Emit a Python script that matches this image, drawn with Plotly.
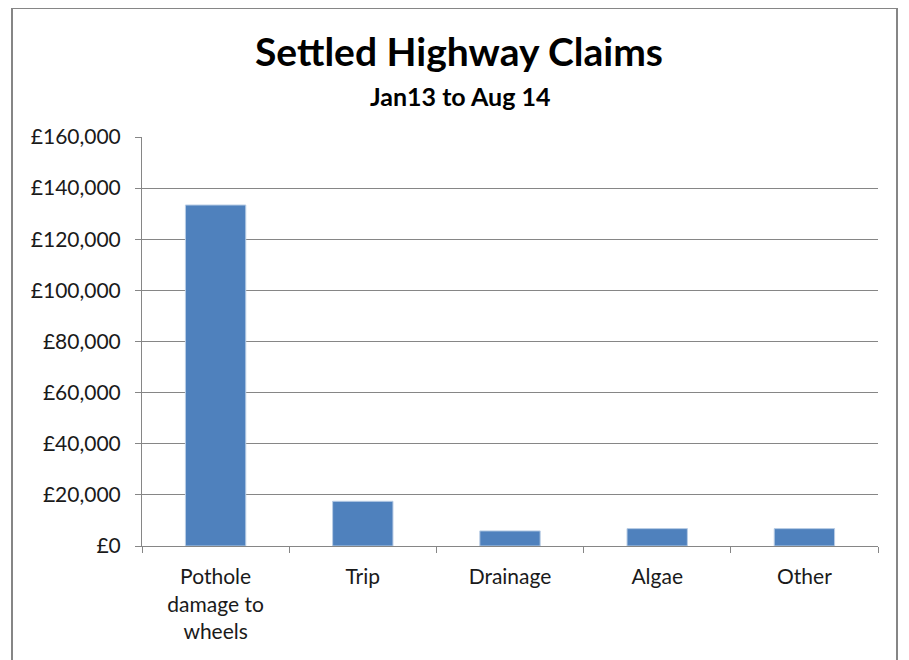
import plotly.graph_objects as go

categories = ["Pothole<br>damage to<br>wheels", "Trip", "Drainage", "Algae", "Other"]
values = [133400, 17500, 5900, 6800, 6800]
y_ticks = [0, 20000, 40000, 60000, 80000, 100000, 120000, 140000, 160000]
y_tick_labels = ["£" + format(v, ",") for v in y_ticks]

FONT = "Lato"
OFF = 8  # page body offset
W, H = 909 - OFF, 660 - OFF
L, R, T, B = 142 - OFF, 909 - 878, 137 - OFF, 660 - 546
pw = W - L - R
ph = H - T - B

def px_x(p):
    return (p - OFF - L) / pw

def px_y(p):
    return (H - B - (p - OFF)) / ph

fig = go.Figure()
fig.add_trace(go.Bar(
    x=categories, y=values,
    marker=dict(color="#4F81BD", line=dict(color="#B9CDE5", width=1)),
    width=0.41,
))

fig.update_layout(
    width=W, height=H,
    margin=dict(l=L, r=R, t=T, b=B),
    paper_bgcolor="white", plot_bgcolor="white",
    showlegend=False,
    font=dict(family=FONT, size=21, color="#1a1a1a"),
    xaxis=dict(
        showline=True, linecolor="#868686", linewidth=1,
        ticks="outside", ticklen=6, tickcolor="#868686",
        tickson="boundaries", showgrid=False,
        tickfont=dict(size=21, family=FONT),
        ticklabelstandoff=12,
    ),
    yaxis=dict(
        range=[0, 160000], tickvals=y_ticks, ticktext=y_tick_labels,
        showline=True, linecolor="#868686", linewidth=1,
        ticks="outside", ticklen=6, tickcolor="#868686",
        showgrid=True, gridcolor="#868686", gridwidth=1,
        zeroline=False,
        tickfont=dict(size=21, family=FONT),
        ticklabelstandoff=10,
    ),
    shapes=[dict(
        type="rect", xref="paper", yref="paper",
        x0=px_x(12), x1=px_x(897), y0=px_y(700), y1=px_y(8),
        line=dict(color="#868686", width=2), fillcolor="rgba(0,0,0,0)",
        layer="below",
    )],
    annotations=[
        dict(text="<b>Settled Highway Claims</b>", xref="paper", yref="paper",
             x=px_x(459), y=px_y(51), xanchor="center", yanchor="middle",
             showarrow=False,
             font=dict(size=39, family=FONT, color="black")),
        dict(text="<b>Jan13 to Aug 14</b>", xref="paper", yref="paper",
             x=px_x(460), y=px_y(96), xanchor="center", yanchor="middle",
             showarrow=False,
             font=dict(size=25, family=FONT, color="black")),
    ],
    bargap=0.59,
)

fig.write_html("out.html")
